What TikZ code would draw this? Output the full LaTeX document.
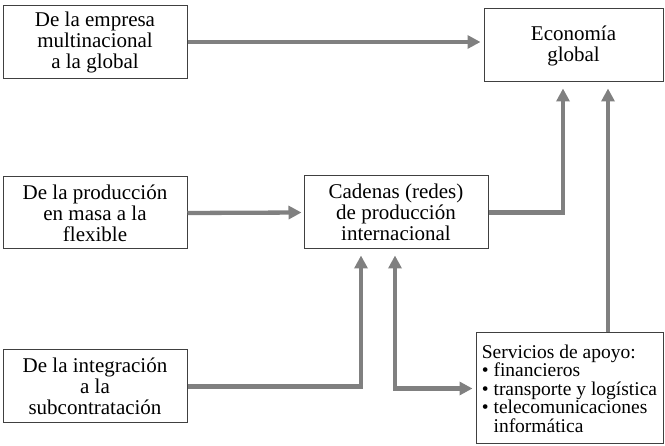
\documentclass[tikz,border=0pt]{standalone}
\usepackage{fontspec}
\setmainfont{Liberation Serif}
\usetikzlibrary{arrows.meta}
\begin{document}
\begin{tikzpicture}[x=1pt,y=-1pt,
box/.style={draw=black!75,line width=1pt,minimum width=184pt,minimum height=73pt,inner sep=0pt,align=center,font=\fontsize{21}{21}\selectfont},
flow/.style={draw=black!50,line width=4.3pt,-{Triangle[length=13pt,width=13pt]}}]
\useasboundingbox(0,0)rectangle(665,446);
\node[box](emp) at (95,42){De la empresa\\multinacional\\a la global};
\node[box,minimum width=179pt](eco) at (573.5,45.5){Economía\\global};
\node[box,minimum height=72pt](prod) at (95,213){De la producción\\en masa a la\\flexible};
\node[box](cad) at (396,212.5){Cadenas (redes)\\de producción\\internacional};
\node[box](int) at (95,386.5){De la integración\\a la\\subcontratación};
\node[box,minimum width=187pt,minimum height=111pt,align=left,font=\fontsize{19.5}{18.5}\selectfont](serv) at (569.5,388.5){Servicios de apoyo:\\\textbullet\ financieros\\\textbullet\ transporte y logística\\\textbullet\ telecomunicaciones\\\phantom{\textbullet\ }informática};
\draw[flow,shorten >=3pt](emp.east)--(emp.east -| eco.west);
\draw[flow,shorten >=2pt](prod.east)--(cad.west);
\draw[flow,shorten >=6pt](cad.east)-|([xshift=-10.5pt]eco.south);
\draw[flow,shorten >=6pt](int.east)-|([xshift=-35pt]cad.south);
\draw[flow,{Triangle[length=13pt,width=13pt]}-{Triangle[length=13pt,width=13pt]},shorten <=6pt,shorten >=3pt]([xshift=-1pt]cad.south)|-(serv.west);
\draw[flow,shorten >=6pt]([xshift=38.5pt]serv.north)--([xshift=38.5pt]serv.north |- eco.south);
\end{tikzpicture}
\end{document}
